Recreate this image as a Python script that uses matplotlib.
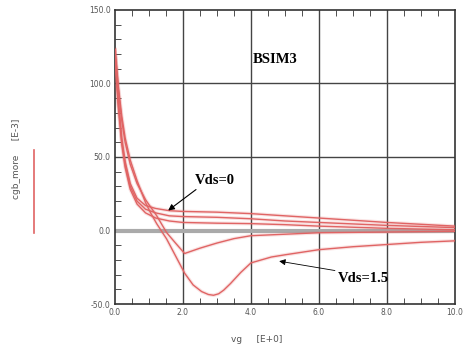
import numpy as np
import matplotlib
matplotlib.use("Agg")
import matplotlib.pyplot as plt

# curves (vg in V, cgb in E-3)
x_c1 = [0, 0.05, 0.1, 0.2, 0.3, 0.45, 0.65, 0.9, 1.2, 1.6, 2, 3, 4, 5, 6, 8, 10]
y_c1 = [123, 105, 88, 63, 47, 32, 22, 17, 15, 13.5, 13, 12.5, 11.5, 10, 8.5, 5.5, 3]
y_c2 = [122, 103, 86, 61, 45, 30, 20, 14.5, 12, 10, 9.5, 9, 8, 6.5, 5.5, 3.5, 2]
y_c3 = [121, 102, 84, 59, 43, 28, 18, 12, 8.5, 6.5, 5.5, 5, 4.7, 4, 3, 1.5, 0.5]

x_c4 = [0, 0.05, 0.1, 0.2, 0.3, 0.45, 0.65, 0.9, 1.05, 1.23, 1.52, 1.8, 2.05,
        2.5, 3, 3.5, 4, 5, 6, 8, 10]
y_c4 = [123, 110, 96, 75, 60, 45, 32, 21, 16, 10, -1.4, -9, -15.6,
        -12, -8.5, -5.5, -3.5, -2.5, -1.5, -1, -0.5]

x_c5 = [0, 0.05, 0.1, 0.2, 0.3, 0.45, 0.65, 0.9, 1.05, 1.23, 1.52, 1.8, 2.05,
        2.3, 2.55, 2.75, 2.9, 3.05, 3.2, 3.4, 3.7, 4, 4.6, 5, 6, 7, 8, 9, 10]
y_c5 = [123, 111, 98, 78, 63, 48, 34, 19, 12, 4.6, -5.7, -18, -29,
        -37, -41.5, -43.5, -44, -43, -40.5, -36, -28.5, -22, -18, -16.5, -13, -11, -9.5, -8, -7]

xticks = [0, 2, 4, 6, 8, 10]
xticklabels = ["0.0", "2.0", "4.0", "6.0", "8.0", "10.0"]
yticks = [-50, 0, 50, 100, 150]
yticklabels = ["-50.0", "0.0", "50.0", "100.0", "150.0"]

red = "#e06464"
tick_gray = "#555555"

fig = plt.figure(figsize=(4.71, 3.54), dpi=100)
ax = fig.add_axes([0.244, 0.141, 0.722, 0.831])

for xs, ys in [(x_c1, y_c1), (x_c1, y_c2), (x_c1, y_c3), (x_c4, y_c4), (x_c5, y_c5)]:
    ax.plot(xs, ys, color=red, lw=2.6, alpha=0.18, zorder=3)
    ax.plot(xs, ys, color=red, lw=1.0, zorder=4)

ax.set_xlim(0, 10)
ax.set_ylim(-50, 150)

# grid
for gx in [2, 4, 6, 8]:
    ax.axvline(gx, color="#444444", lw=1.0, zorder=1)
for gy in [50, 100]:
    ax.axhline(gy, color="#444444", lw=1.0, zorder=1)
ax.axhline(0, color="#aaaaaa", lw=3.0, zorder=1)

ax.set_xticks(xticks)
ax.set_xticklabels(xticklabels)
ax.set_yticks(yticks)
ax.set_yticklabels(yticklabels)
ax.set_xticks(np.arange(0, 10.01, 0.5), minor=True)
ax.set_yticks(np.arange(-50, 150.01, 10), minor=True)
ax.tick_params(which="major", length=0, labelsize=5.5, labelcolor=tick_gray, pad=3)
ax.tick_params(axis="x", which="minor", direction="in", length=4, top=True, bottom=True, color="#333333")
ax.tick_params(axis="y", which="minor", direction="in", length=4, left=True, right=False, color="#333333")
for s in ax.spines.values():
    s.set_color("#333333")
    s.set_linewidth(1.2)

# annotations
ax.text(4.7, 116, "BSIM3", family="Liberation Serif", weight="bold", fontsize=10.5,
        ha="center", va="center", zorder=6)
ax.text(2.35, 34, "Vds=0", family="Liberation Serif", weight="bold", fontsize=10.5,
        ha="left", va="center", zorder=6)
ax.annotate("", xy=(1.5, 12.5), xytext=(2.45, 29),
            arrowprops=dict(arrowstyle="-|>", color="black", lw=0.8, mutation_scale=9), zorder=6)
ax.text(6.55, -32.5, "Vds=1.5", family="Liberation Serif", weight="bold", fontsize=10.5,
        ha="left", va="center", zorder=6)
ax.annotate("", xy=(4.75, -20.5), xytext=(6.55, -27.5),
            arrowprops=dict(arrowstyle="-|>", color="black", lw=0.6, mutation_scale=9), zorder=6)

# axis labels in the old waveform-viewer style
fig.text(0.545, 0.04, "vg     [E+0]", fontsize=6.5, color=tick_gray, ha="center", va="center")
fig.text(0.035, 0.55, "cgb_more     [E-3]", fontsize=6.5, color=tick_gray, rotation=90,
         ha="center", va="center")
fig.add_artist(plt.Line2D([0.073, 0.073], [0.342, 0.576], color=red, lw=1.2))

fig.savefig("out.png", dpi=100)
